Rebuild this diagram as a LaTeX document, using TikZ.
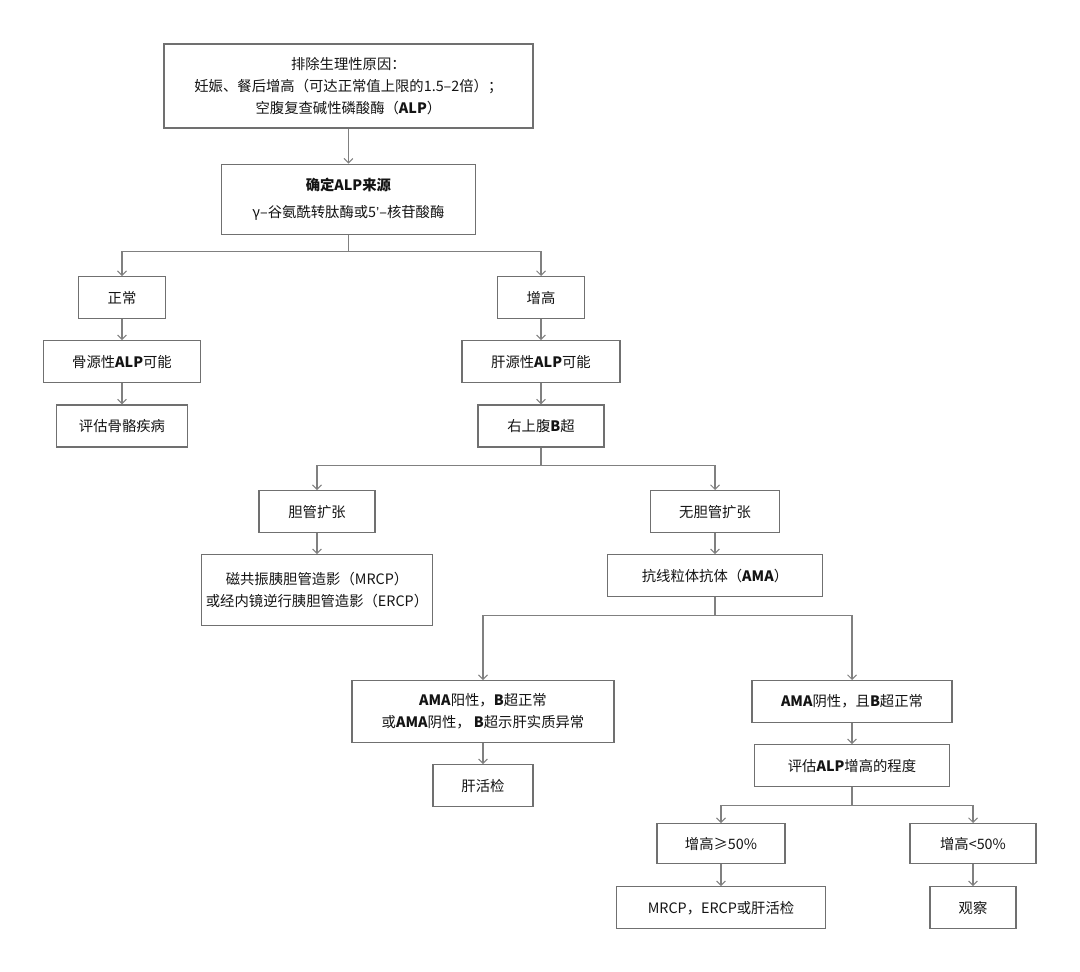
\documentclass[tikz,border=0pt]{standalone}
\usepackage{fontspec}
\setmainfont{Noto Sans CJK SC}
\newfontfamily\latinfont{Liberation Sans}
\usepackage{tikz}
\usetikzlibrary{arrows.meta, positioning}
\definecolor{boxGray}{RGB}{112, 112, 112}
\definecolor{lineGray}{RGB}{128, 128, 128}
\definecolor{inkBlack}{RGB}{20, 20, 20}
\newcommand{\bflat}[1]{\textbf{#1}}
\tikzset{
  stepnode/.style={
    rectangle,
    draw=boxGray, line width=0.85pt, fill=white,
    text=inkBlack,
    minimum height=1.05cm, inner sep=0pt,
    align=center,
    font=\fontsize{10.2}{15.6}\selectfont
  },
  flowarrow/.style={
    -{Straight Barb[length=1.1mm,width=2.2mm]},
    line width=0.75pt,
    color=lineGray
  }
}

\begin{document}
\begin{tikzpicture}[node distance=0.525cm]
  \useasboundingbox (0,0) rectangle (27,-24.275);

  \node[stepnode, minimum width=9.225cm, minimum height=2.1cm] (rule) at (8.71,-2.15)
    {排除生理性原因：\\妊娠、餐后增高（可达正常值上限的1.5–2倍）；\\空腹复查碱性磷酸酶（\bflat{ALP}）};

  \node[stepnode, minimum width=6.35cm, minimum height=1.75cm, below=0.875cm of rule] (source)
    {\textbf{确定ALP来源}\\[3.5pt]γ–谷氨酰转肽酶或5{\latinfont ’}–核苷酸酶};

  % left branch: bone
  \node[stepnode, minimum width=2.175cm, anchor=north] (normal) at (3.05,-6.9) {正常};
  \node[stepnode, minimum width=3.925cm, below=of normal] (bone) {骨源性\bflat{ALP}可能};
  \node[stepnode, minimum width=3.275cm, below=of bone] (boneeval) {评估骨骼疾病};

  % right branch: liver
  \node[stepnode, minimum width=2.175cm, anchor=north] (raised) at (13.525,-6.9) {增高};
  \node[stepnode, minimum width=3.95cm, below=of raised] (liver) {肝源性\bflat{ALP}可能};
  \node[stepnode, minimum width=3.15cm, below=of liver] (echo) {右上腹\bflat{B}超};

  \node[stepnode, minimum width=2.9cm, anchor=north] (dilated) at (7.925,-12.25) {胆管扩张};
  \node[stepnode, minimum width=5.775cm, minimum height=1.775cm, below=of dilated] (mrcp)
    {磁共振胰胆管造影（MRCP）\\或经内镜逆行胰胆管造影（ERCP）};

  \node[stepnode, minimum width=3.225cm, anchor=north] (nodilated) at (17.875,-12.25) {无胆管扩张};
  \node[stepnode, minimum width=5.375cm, below=of nodilated] (ama) {抗线粒体抗体（\bflat{AMA}）};

  \node[stepnode, minimum width=6.55cm, minimum height=1.55cm, anchor=north] (amapos) at (12.075,-17.0)
    {\bflat{AMA}阳性，\bflat{B}超正常\\或\bflat{AMA}阴性， \bflat{B}超示肝实质异常};
  \node[stepnode, minimum width=2.5cm, below=of amapos] (biopsy) {肝活检};

  \node[stepnode, minimum width=5.0cm, anchor=north] (amaneg) at (21.3,-17.0)
    {\bflat{AMA}阴性，且\bflat{B}超正常};
  \node[stepnode, minimum width=4.875cm, below=of amaneg] (degree) {评估\bflat{ALP}增高的程度};

  \node[stepnode, minimum width=3.2cm, minimum height=1.0cm, anchor=north] (high) at (18.025,-20.575) {增高≥50\%};
  \node[stepnode, minimum width=5.225cm, below=0.55cm of high] (workup) {MRCP，ERCP或肝活检};

  \node[stepnode, minimum width=3.15cm, minimum height=1.0cm, anchor=north] (low) at (24.325,-20.575) {增高<50\%};
  \node[stepnode, minimum width=2.15cm, below=0.55cm of low] (watch) {观察};

  \draw[flowarrow] (rule)   -- (source);
  \draw[flowarrow] (source.south) -- ++(0,-0.425) -| (normal.north);
  \draw[flowarrow] (source.south) -- ++(0,-0.425) -| (raised.north);
  \draw[flowarrow] (normal) -- (bone);
  \draw[flowarrow] (bone)   -- (boneeval);
  \draw[flowarrow] (raised) -- (liver);
  \draw[flowarrow] (liver)  -- (echo);
  \draw[flowarrow] (echo.south) -- ++(0,-0.45) -| (dilated.north);
  \draw[flowarrow] (echo.south) -- ++(0,-0.45) -| (nodilated.north);
  \draw[flowarrow] (dilated)   -- (mrcp);
  \draw[flowarrow] (nodilated) -- (ama);
  \draw[flowarrow] (ama.south) -- ++(0,-0.45) -| (amapos.north);
  \draw[flowarrow] (ama.south) -- ++(0,-0.45) -| (amaneg.north);
  \draw[flowarrow] (amapos) -- (biopsy);
  \draw[flowarrow] (amaneg) -- (degree);
  \draw[flowarrow] (degree.south) -- ++(0,-0.45) -| (high.north);
  \draw[flowarrow] (degree.south) -- ++(0,-0.45) -| (low.north);
  \draw[flowarrow] (high) -- (workup);
  \draw[flowarrow] (low)  -- (watch);

\end{tikzpicture}
\end{document}
